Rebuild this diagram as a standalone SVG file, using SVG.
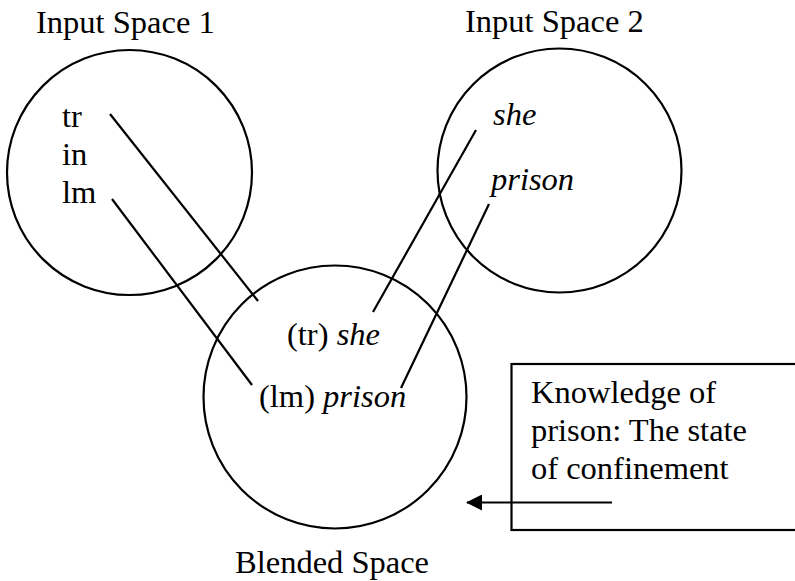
<svg xmlns="http://www.w3.org/2000/svg" width="795" height="581" viewBox="0 0 795 581">
<defs>
<style>
text{font-family:'Liberation Serif','DejaVu Serif',serif;font-size:32.5px;fill:#000}
.it{font-style:italic}
.c{fill:none;stroke:#000;stroke-width:2.2}
.ln{stroke:#000;stroke-width:2.2;fill:none}
</style>
<marker id="ah" viewBox="0 0 16 16" refX="15" refY="8" markerWidth="16" markerHeight="16" markerUnits="userSpaceOnUse" orient="auto">
<path d="M0,0 L16,8 L0,16 Z" fill="#000"/>
</marker>
</defs>
<rect width="795" height="581" fill="#fff"/>
<g font-family="Liberation Serif, serif">
<g id="input1">
<circle class="c" cx="129.5" cy="172.5" r="122.5"/>
<text x="36" y="33">Input Space 1</text>
<text x="62" y="127">tr</text>
<text x="62" y="165">in</text>
<text x="62" y="203">lm</text>
</g>
<g id="input2">
<circle class="c" cx="559.5" cy="170.5" r="122"/>
<text x="465" y="32">Input Space 2</text>
<text class="it" x="493" y="125">she</text>
<text class="it" x="491" y="190">prison</text>
</g>
<g id="blended">
<circle class="c" cx="335" cy="397" r="131.5"/>
<text x="287" y="345">(tr) <tspan class="it">she</tspan></text>
<text x="259" y="407">(lm) <tspan class="it">prison</tspan></text>
<text x="235" y="573">Blended Space</text>
</g>
<g id="knowledge">
<rect x="511.5" y="364" width="300" height="166" fill="none" stroke="#000" stroke-width="2.2"/>
<text x="531" y="403">Knowledge of</text>
<text x="531" y="441">prison: The state</text>
<text x="531" y="479">of confinement</text>
</g>
</g>
<g id="connectors">
<line class="ln" x1="110" y1="114" x2="258" y2="301"/>
<line class="ln" x1="112" y1="199" x2="252" y2="385"/>
<line class="ln" x1="476" y1="130" x2="373" y2="312"/>
<line class="ln" x1="489" y1="204" x2="401" y2="388"/>
<line class="ln" x1="612" y1="502.5" x2="467" y2="502.5" marker-end="url(#ah)"/>
</g>
</svg>
